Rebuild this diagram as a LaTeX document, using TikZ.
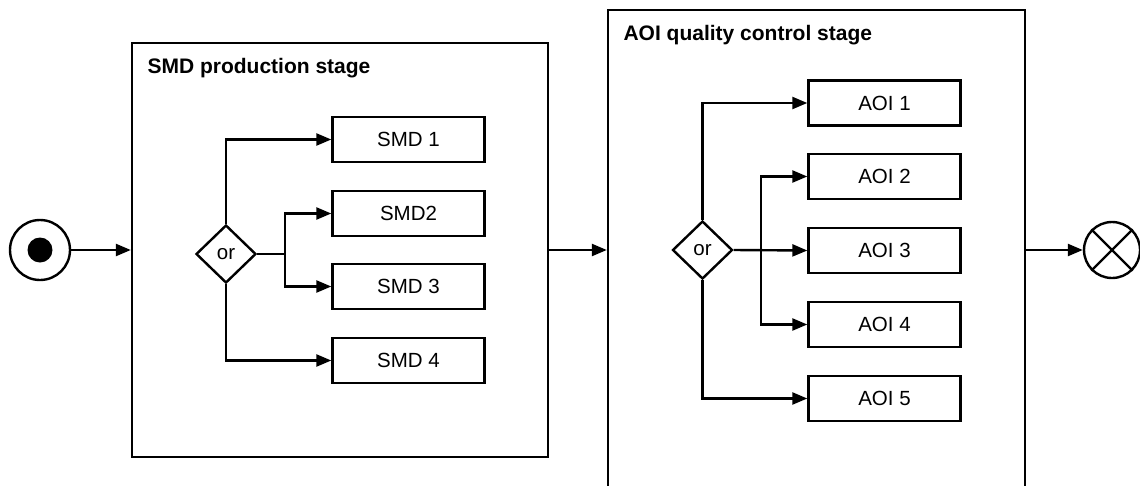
\documentclass[tikz,border=0pt]{standalone}
\usepackage{fontspec}
\setmainfont{Liberation Sans}
\usetikzlibrary{arrows.meta,shapes.geometric}
\begin{document}
\begin{tikzpicture}[x=1pt,y=-1pt,line width=2.4pt,
  arr/.style={-{Triangle[length=15pt,width=12pt]}},
  task/.style={draw,rectangle,minimum width=152pt,minimum height=45pt,inner sep=0pt,font=\fontsize{20.5}{24}\selectfont},
  gate/.style={draw,diamond,minimum width=60pt,minimum height=58pt,inner sep=0pt,font=\fontsize{20.5}{24}\selectfont},
  stage/.style={draw,rectangle,inner sep=0pt},
  stitle/.style={anchor=base west,font=\bfseries\fontsize{21}{25}\selectfont}]
\useasboundingbox (0,0) rectangle (1140,485);
% start
\node[draw,circle,minimum size=60pt,inner sep=0pt] (start) at (40,250) {};
\fill (start.center) circle (12.5pt);
% SMD stage
\node[stage,minimum width=416pt,minimum height=414pt] (smd) at (340,250) {};
\node[stitle] (smdt) at (143,73) {SMD production stage};
\node[gate] (g1) at (226,254) {or};
\node[task] (s1) at (408.5,139.5) {SMD 1};
\node[task] (s2) at (408.5,213.5) {SMD2};
\node[task] (s3) at (408.5,286.5) {SMD 3};
\node[task] (s4) at (408.5,360.5) {SMD 4};
\coordinate (j1) at (285,254);
\draw[arr] (g1.north) |- (s1.west);
\draw (g1.east) -- (j1);
\draw[arr] (j1) |- (s2.west);
\draw[arr] (j1) |- (s3.west);
\draw[arr] (g1.south) |- (s4.west);
% AOI stage
\node[stage,minimum width=417pt,minimum height=500pt] (aoi) at (816.5,260) {};
\node[stitle] (aoit) at (619,40) {AOI quality control stage};
\node[gate] (g2) at (702.5,250) {or};
\node[task] (a1) at (884.5,103) {AOI 1};
\node[task] (a2) at (884.5,176.5) {AOI 2};
\node[task] (a3) at (884.5,250.5) {AOI 3};
\node[task] (a4) at (884.5,324.5) {AOI 4};
\node[task] (a5) at (884.5,398.5) {AOI 5};
\coordinate (j2) at (761,250);
\draw[arr] (g2.north) |- (a1.west);
\draw[arr] (g2.east) -- (a3.west);
\draw[arr] (j2) |- (a2.west);
\draw[arr] (j2) |- (a4.west);
\draw[arr] (g2.south) |- (a5.west);
% end
\node[draw,circle,minimum size=56pt,inner sep=0pt] (end) at (1112,250) {};
\draw (end.north east) -- (end.south west) (end.north west) -- (end.south east);
% flow
\draw[arr] (start.east) -- (start.east -| smd.west);
\draw[arr] (smd.east |- 0,250) coordinate (o1) -- (o1 -| aoi.west);
\draw[arr] (aoi.east |- 0,250) coordinate (o2) -- (end.west);
\end{tikzpicture}
\end{document}
